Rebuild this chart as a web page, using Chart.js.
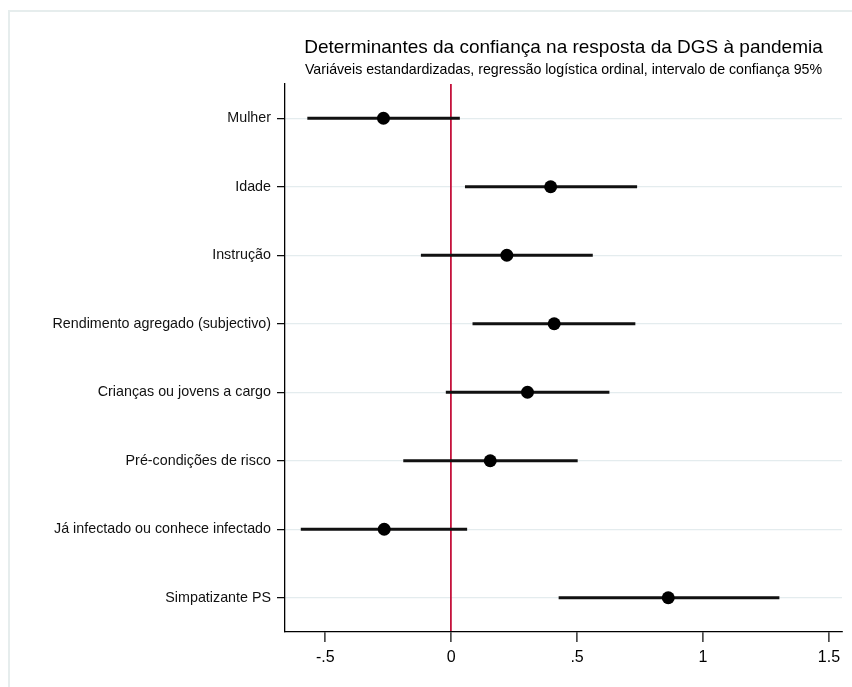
<!DOCTYPE html>
<html>
<head>
<meta charset="utf-8">
<script src="https://cdn.jsdelivr.net/npm/chart.js@4"></script>
<style>
  html, body { margin: 0; padding: 0; background: #fff; }
  #wrap { width: 852px; height: 687px; position: relative; }
</style>
</head>
<body>
<div id="wrap"><canvas id="c" width="852" height="687"></canvas></div>
<script>
// Coefficients of the ordinal logistic model (standardised variables)
const categories = [
  'Mulher',
  'Idade',
  'Instrução',
  'Rendimento agregado (subjectivo)',
  'Crianças ou jovens a cargo',
  'Pré-condições de risco',
  'Já infectado ou conhece infectado',
  'Simpatizante PS'
];
const estimate = [-0.269, 0.395, 0.221, 0.409, 0.303, 0.155, -0.266, 0.862];
const lower    = [-0.570, 0.056, -0.119, 0.086, -0.020, -0.189, -0.596, 0.428];
const upper    = [ 0.033, 0.737,  0.561, 0.730,  0.627,  0.501,  0.062, 1.302];

const xTicks      = [-0.5, 0, 0.5, 1, 1.5];
const xTickLabels = ['-.5', '0', '.5', '1', '1.5'];

const titleText    = 'Determinantes da confiança na resposta da DGS à pandemia';
const subtitleText = 'Variáveis estandardizadas, regressão logística ordinal, intervalo de confiança 95%';

const FONT = '"Liberation Sans", Arial, Helvetica, sans-serif';
const ZERO_RED = '#c4123c';

// Light outer frame of the graph region
const framePlugin = {
  id: 'frame',
  beforeDraw(chart) {
    const ctx = chart.ctx;
    ctx.save();
    ctx.strokeStyle = '#e6eded';
    ctx.lineWidth = 2;
    ctx.strokeRect(9, 11, 1000, 1000);
    ctx.restore();
  }
};

// Title and subtitle centred over the plot region
const headingPlugin = {
  id: 'heading',
  afterDraw(chart) {
    const ctx = chart.ctx;
    const a = chart.chartArea;
    const cx = (a.left + a.right) / 2;
    ctx.save();
    ctx.fillStyle = '#000';
    ctx.textAlign = 'center';
    ctx.textBaseline = 'alphabetic';
    ctx.font = '19px ' + FONT;
    ctx.fillText(titleText, cx, 53);
    ctx.font = '14.2px ' + FONT;
    ctx.fillText(subtitleText, cx, 74);
    ctx.restore();
  }
};

new Chart(document.getElementById('c'), {
  type: 'bar',
  data: {
    labels: categories,
    datasets: [
      {
        type: 'bar',
        data: categories.map((_, i) => [lower[i], upper[i]]),
        backgroundColor: '#111',
        borderWidth: 0,
        barThickness: 2.2,
        order: 2
      },
      {
        type: 'line',
        data: estimate,
        showLine: false,
        pointRadius: 6.5,
        pointHoverRadius: 6.5,
        pointBackgroundColor: '#000',
        pointBorderWidth: 0,
        order: 1
      }
    ]
  },
  options: {
    indexAxis: 'y',
    responsive: false,
    animation: false,
    devicePixelRatio: 1,
    layout: { padding: { left: 10, right: 10, top: 84, bottom: 0 } },
    plugins: {
      legend: { display: false },
      title: { display: false },
      tooltip: { enabled: false }
    },
    scales: {
      y: {
        type: 'category',
        offset: true,
        grid: {
          offset: false,
          color: '#e4ecee',
          lineWidth: 1.3,
          drawTicks: true,
          tickLength: 8,
          tickColor: '#000',
          tickWidth: 1.2
        },
        border: { display: true, color: '#000', width: 1.3 },
        ticks: {
          padding: 6,
          color: '#111',
          font: { family: FONT, size: 14.3 }
        },
        afterFit(scale) { scale.width = 275; }
      },
      x: {
        type: 'linear',
        position: 'bottom',
        min: -0.66,
        max: 1.552,
        z: 1,
        grid: {
          color: (c) => (c.tick && c.tick.value === 0 ? ZERO_RED : 'rgba(0,0,0,0)'),
          lineWidth: 1.8,
          drawTicks: true,
          tickLength: 10,
          tickColor: '#000',
          tickWidth: 1.2
        },
        border: { display: true, color: '#000', width: 1.3 },
        ticks: {
          padding: 6,
          color: '#000',
          font: { family: FONT, size: 16 },
          callback: (v) => {
            const k = xTicks.indexOf(v);
            return k >= 0 ? xTickLabels[k] : '';
          }
        },
        afterBuildTicks(scale) {
          scale.ticks = xTicks.map(v => ({ value: v }));
        },
        afterFit(scale) { scale.height = 55; }
      }
    }
  },
  plugins: [framePlugin, headingPlugin]
});
</script>
</body>
</html>
